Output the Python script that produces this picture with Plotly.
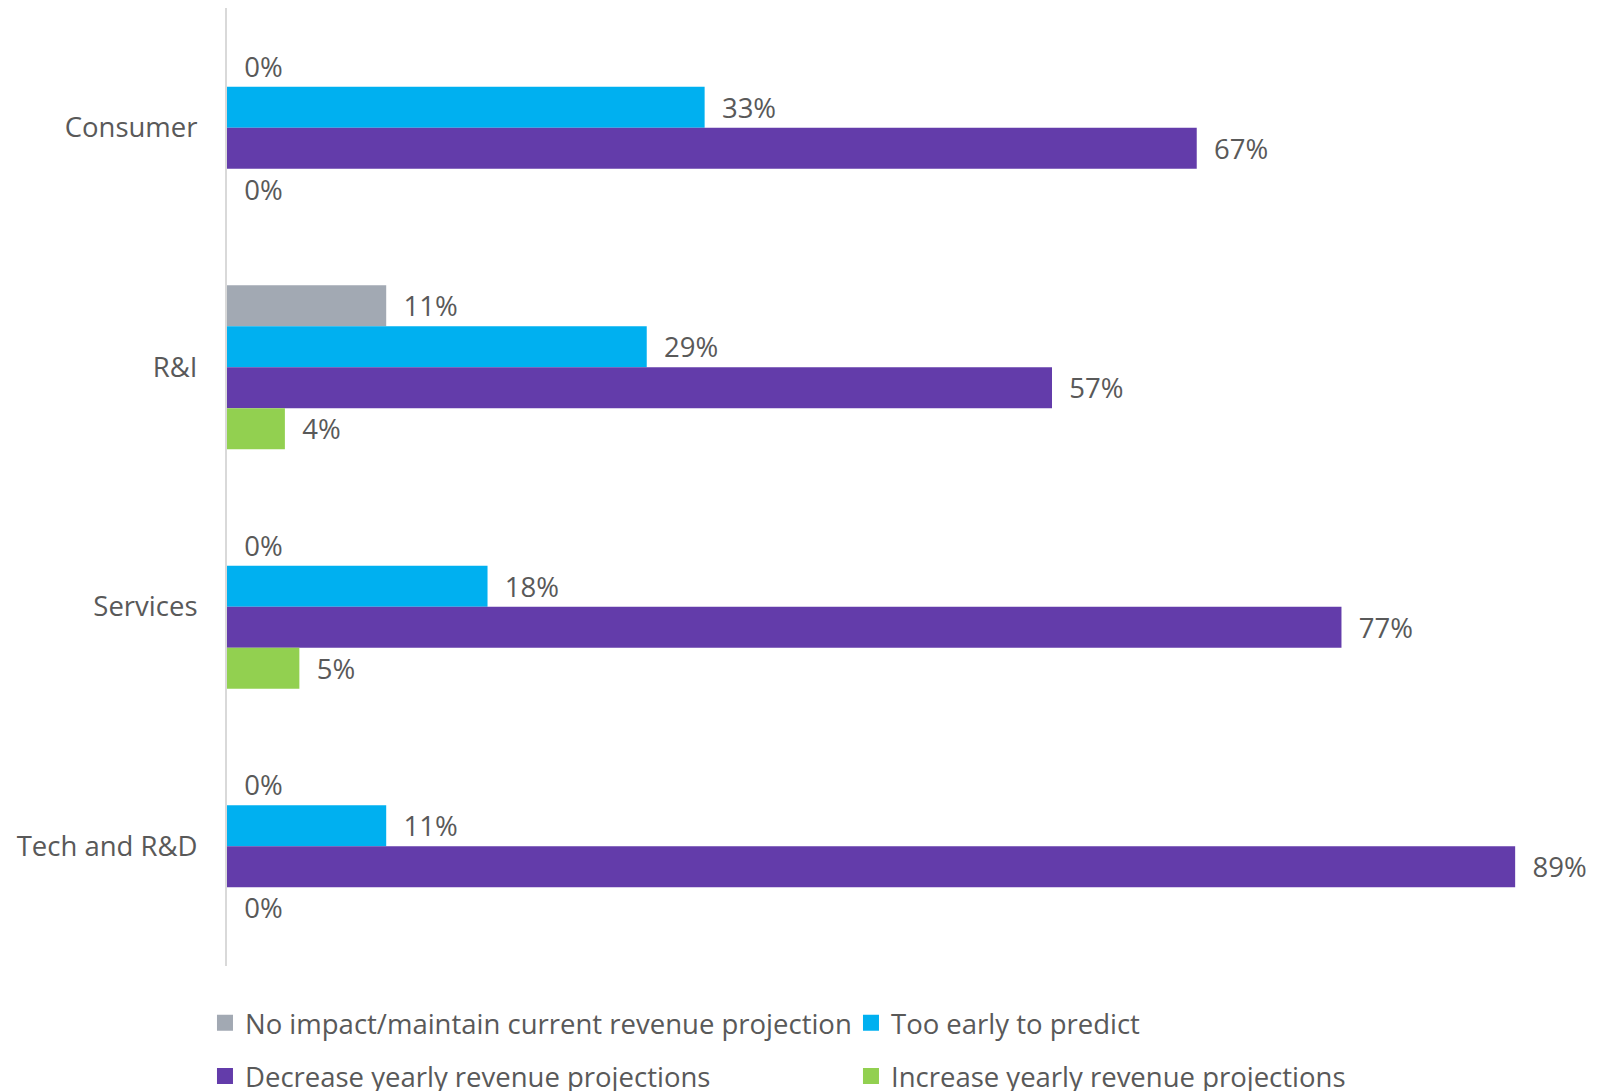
import plotly.graph_objects as go

categories = ["Consumer", "R&I", "Services", "Tech and R&D"]
series_names = [
    "No impact/maintain current revenue projection",
    "Too early to predict",
    "Decrease yearly revenue projections",
    "Increase yearly revenue projections",
]
no_impact = [0, 11, 0, 0]
too_early = [33, 29, 18, 11]
decrease = [67, 57, 77, 89]
increase = [0, 4, 5, 0]
colors = ["#A2A9B3", "#00B0F0", "#633CAA", "#92D050"]
legend_ids = ["legend", "legend", "legend2", "legend2"]

FONT = "Open Sans"
FS = 27.5
TXT = "#595959"

fig = go.Figure()
for name, vals, col in zip(series_names, [no_impact, too_early, decrease, increase], colors):
    fig.add_trace(go.Bar(
        y=categories, x=vals, name=name, orientation="h",
        marker=dict(color=col, line=dict(width=0)),
        text=[f"\u00a0\u00a0{v}%" for v in vals],
        textposition="outside", constraintext="none", cliponaxis=False,
        textfont=dict(family=FONT, size=FS, color=TXT),
        showlegend=False, hoverinfo="skip",
    ))

# legend-only entries with larger square swatches
for name, col, lg in zip(series_names, colors, legend_ids):
    fig.add_trace(go.Scatter(
        x=[None], y=[None], mode="markers", name=name,
        marker=dict(symbol="square", size=17, color=col),
        legend=lg, showlegend=True, hoverinfo="skip",
    ))

leg_common = dict(orientation="h", xref="container", yref="container",
                  xanchor="left", yanchor="middle",
                  entrywidth=601, entrywidthmode="pixels", itemsizing="trace",
                  font=dict(family=FONT, size=FS, color=TXT), itemwidth=30,
                  traceorder="normal", bgcolor="rgba(0,0,0,0)")

fig.update_layout(
    width=1595, height=1083,
    margin=dict(l=219, r=1, t=0, b=125, autoexpand=False),
    paper_bgcolor="white", plot_bgcolor="white",
    barmode="group", bargap=0.315, bargroupgap=0,
    font=dict(family=FONT, size=FS, color=TXT),
    xaxis=dict(range=[0, 95], visible=False, showgrid=False, zeroline=False),
    yaxis=dict(autorange="reversed", showline=True, linecolor="#D9D9D9", linewidth=2,
               ticks="", ticklabelstandoff=22, showgrid=False,
               tickfont=dict(family=FONT, size=FS, color=TXT)),
    legend=dict(x=0.1235, y=0.0628, **leg_common),
    legend2=dict(x=0.1235, y=0.01385, **leg_common),
)

fig.write_html("out.html")
